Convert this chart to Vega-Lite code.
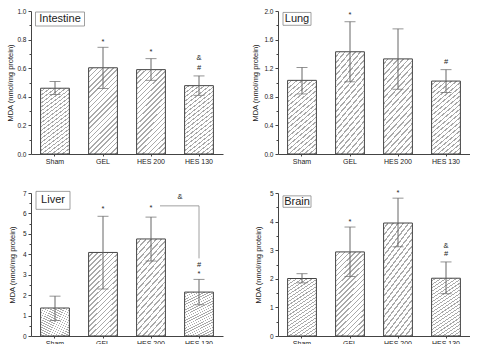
{
  "$schema": "https://vega.github.io/schema/vega-lite/v6.json",
  "padding": {"left": 6, "top": 8, "right": 0, "bottom": 0},
  "background": "white",
  "columns": 2,
  "spacing": {"row": 24, "column": 28},
  "config": {
    "view": {"stroke": null},
    "font": "Liberation Sans",
    "axis": {"grid": false, "labelFont": "Liberation Sans", "titleFont": "Liberation Sans", "labelColor": "#222", "titleColor": "#222", "titleFontWeight": "normal", "domainColor": "#444", "tickColor": "#444", "domainWidth": 1, "tickWidth": 1, "labelOverlap": false},
    "axisX": {"title": null, "labelAngle": 0, "tickSize": 2, "labelPadding": 1, "labelFontSize": 7},
    "axisY": {"labelFontSize": 6.5, "labelPadding": 2, "titleFontSize": 7.5, "titleBaseline": "middle", "tickSize": 3},
    "text": {"font": "Liberation Sans", "color": "#222"},
    "bar": {
      "stroke": "#444", "strokeWidth": 1,
      "fill": {"gradient": "linear", "x1": 0, "y1": 0, "x2": 1, "y2": 3, "stops": [
        {"offset": 0, "color": "#ffffff"}, {"offset": 0.0126, "color": "#ffffff"}, {"offset": 0.0126, "color": "#aaaaaa"}, {"offset": 0.018, "color": "#aaaaaa"},
        {"offset": 0.018, "color": "#ffffff"}, {"offset": 0.0306, "color": "#ffffff"}, {"offset": 0.0306, "color": "#aaaaaa"}, {"offset": 0.036, "color": "#aaaaaa"},
        {"offset": 0.036, "color": "#ffffff"}, {"offset": 0.0486, "color": "#ffffff"}, {"offset": 0.0486, "color": "#aaaaaa"}, {"offset": 0.054, "color": "#aaaaaa"},
        {"offset": 0.054, "color": "#ffffff"}, {"offset": 0.0666, "color": "#ffffff"}, {"offset": 0.0666, "color": "#aaaaaa"}, {"offset": 0.072, "color": "#aaaaaa"},
        {"offset": 0.072, "color": "#ffffff"}, {"offset": 0.0846, "color": "#ffffff"}, {"offset": 0.0846, "color": "#aaaaaa"}, {"offset": 0.09, "color": "#aaaaaa"},
        {"offset": 0.09, "color": "#ffffff"}, {"offset": 0.1026, "color": "#ffffff"}, {"offset": 0.1026, "color": "#aaaaaa"}, {"offset": 0.108, "color": "#aaaaaa"},
        {"offset": 0.108, "color": "#ffffff"}, {"offset": 0.1206, "color": "#ffffff"}, {"offset": 0.1206, "color": "#aaaaaa"}, {"offset": 0.126, "color": "#aaaaaa"},
        {"offset": 0.126, "color": "#ffffff"}, {"offset": 0.1386, "color": "#ffffff"}, {"offset": 0.1386, "color": "#aaaaaa"}, {"offset": 0.144, "color": "#aaaaaa"},
        {"offset": 0.144, "color": "#ffffff"}, {"offset": 0.1566, "color": "#ffffff"}, {"offset": 0.1566, "color": "#aaaaaa"}, {"offset": 0.162, "color": "#aaaaaa"},
        {"offset": 0.162, "color": "#ffffff"}, {"offset": 0.1746, "color": "#ffffff"}, {"offset": 0.1746, "color": "#aaaaaa"}, {"offset": 0.18, "color": "#aaaaaa"},
        {"offset": 0.18, "color": "#ffffff"}, {"offset": 0.1926, "color": "#ffffff"}, {"offset": 0.1926, "color": "#aaaaaa"}, {"offset": 0.198, "color": "#aaaaaa"},
        {"offset": 0.198, "color": "#ffffff"}, {"offset": 0.2106, "color": "#ffffff"}, {"offset": 0.2106, "color": "#aaaaaa"}, {"offset": 0.216, "color": "#aaaaaa"},
        {"offset": 0.216, "color": "#ffffff"}, {"offset": 0.2286, "color": "#ffffff"}, {"offset": 0.2286, "color": "#aaaaaa"}, {"offset": 0.234, "color": "#aaaaaa"},
        {"offset": 0.234, "color": "#ffffff"}, {"offset": 0.2466, "color": "#ffffff"}, {"offset": 0.2466, "color": "#aaaaaa"}, {"offset": 0.252, "color": "#aaaaaa"},
        {"offset": 0.252, "color": "#ffffff"}, {"offset": 0.2646, "color": "#ffffff"}, {"offset": 0.2646, "color": "#aaaaaa"}, {"offset": 0.27, "color": "#aaaaaa"},
        {"offset": 0.27, "color": "#ffffff"}, {"offset": 0.2826, "color": "#ffffff"}, {"offset": 0.2826, "color": "#aaaaaa"}, {"offset": 0.288, "color": "#aaaaaa"},
        {"offset": 0.288, "color": "#ffffff"}, {"offset": 0.3006, "color": "#ffffff"}, {"offset": 0.3006, "color": "#aaaaaa"}, {"offset": 0.306, "color": "#aaaaaa"},
        {"offset": 0.306, "color": "#ffffff"}, {"offset": 0.3186, "color": "#ffffff"}, {"offset": 0.3186, "color": "#aaaaaa"}, {"offset": 0.324, "color": "#aaaaaa"},
        {"offset": 0.324, "color": "#ffffff"}, {"offset": 0.3366, "color": "#ffffff"}, {"offset": 0.3366, "color": "#aaaaaa"}, {"offset": 0.342, "color": "#aaaaaa"},
        {"offset": 0.342, "color": "#ffffff"}, {"offset": 0.3546, "color": "#ffffff"}, {"offset": 0.3546, "color": "#aaaaaa"}, {"offset": 0.36, "color": "#aaaaaa"},
        {"offset": 0.36, "color": "#ffffff"}, {"offset": 0.3726, "color": "#ffffff"}, {"offset": 0.3726, "color": "#aaaaaa"}, {"offset": 0.378, "color": "#aaaaaa"},
        {"offset": 0.378, "color": "#ffffff"}, {"offset": 0.3906, "color": "#ffffff"}, {"offset": 0.3906, "color": "#aaaaaa"}, {"offset": 0.396, "color": "#aaaaaa"},
        {"offset": 0.396, "color": "#ffffff"}, {"offset": 0.4086, "color": "#ffffff"}, {"offset": 0.4086, "color": "#aaaaaa"}, {"offset": 0.414, "color": "#aaaaaa"}
      ]}
    }
  },
  "concat": [
    {
      "width": 192, "height": 143,
      "resolve": {"axis": {"y": "independent"}},
      "data": {"values": [
        {"g": "Sham", "m": 0.46, "lo": 0.416, "hi": 0.507},
        {"g": "GEL", "m": 0.603, "lo": 0.458, "hi": 0.746},
        {"g": "HES 200", "m": 0.59, "lo": 0.515, "hi": 0.667},
        {"g": "HES 130", "m": 0.478, "lo": 0.41, "hi": 0.546}
      ]},
      "layer": [
        {"mark": {"type": "bar"},
         "encoding": {
           "x": {"field": "g", "type": "nominal", "scale": {"domain": ["Sham", "GEL", "HES 200", "HES 130"], "paddingInner": 0.4, "paddingOuter": 0.2}},
           "y": {"field": "m", "type": "quantitative", "scale": {"domain": [0, 1], "nice": false},
                 "axis": {"title": "MDA (nmol/mg protein)", "titleX": -21, "values": [0, 0.2, 0.4, 0.6, 0.8, 1.0], "format": ".1f"}}}},
        {"mark": {"type": "tick", "opacity": 0},
         "encoding": {"x": {"field": "g", "type": "nominal"},
           "y": {"field": "m", "type": "quantitative", "axis": {"orient": "left", "values": [0.1, 0.3, 0.5, 0.7, 0.9], "labels": false, "domain": false, "title": null, "tickSize": 2}}}},
        {"mark": {"type": "rule", "color": "#666", "strokeWidth": 1},
         "encoding": {"x": {"field": "g", "type": "nominal"}, "y": {"field": "lo", "type": "quantitative", "axis": null}, "y2": {"field": "hi"}}},
        {"mark": {"type": "tick", "color": "#666", "size": 11, "thickness": 1},
         "encoding": {"x": {"field": "g", "type": "nominal"}, "y": {"field": "lo", "type": "quantitative", "axis": null}}},
        {"mark": {"type": "tick", "color": "#666", "size": 11, "thickness": 1},
         "encoding": {"x": {"field": "g", "type": "nominal"}, "y": {"field": "hi", "type": "quantitative", "axis": null}}},
        {"data": {"values": [
           {"g": "GEL", "v": 0.786, "t": "*"},
           {"g": "HES 200", "v": 0.716, "t": "*"},
           {"g": "HES 130", "v": 0.603, "t": "#"},
           {"g": "HES 130", "v": 0.67, "t": "&"}
         ]},
         "mark": {"type": "text", "fontSize": 7.5, "baseline": "middle"},
         "encoding": {"x": {"field": "g", "type": "nominal"}, "y": {"field": "v", "type": "quantitative", "axis": null}, "text": {"field": "t"}}},
        {"data": {"values": [{"g": "Sham", "b1": 0.895, "b2": 0.993, "yt": 0.944, "label": "Intestine"}]},
         "layer": [
           {"mark": {"type": "bar", "width": 49, "xOffset": 5, "fill": "white", "stroke": "#888", "strokeWidth": 0.8},
            "encoding": {"x": {"field": "g", "type": "nominal"}, "y": {"field": "b1", "type": "quantitative", "axis": null}, "y2": {"field": "b2"}}},
           {"mark": {"type": "text", "fontSize": 11, "dx": 5, "baseline": "middle"},
            "encoding": {"x": {"field": "g", "type": "nominal"}, "y": {"field": "yt", "type": "quantitative", "axis": null}, "text": {"field": "label"}}}
         ]}
      ]
    },
    {
      "width": 192, "height": 143,
      "resolve": {"axis": {"y": "independent"}},
      "data": {"values": [
        {"g": "Sham", "m": 1.03, "lo": 0.84, "hi": 1.21},
        {"g": "GEL", "m": 1.43, "lo": 1.01, "hi": 1.85},
        {"g": "HES 200", "m": 1.33, "lo": 0.905, "hi": 1.75},
        {"g": "HES 130", "m": 1.02, "lo": 0.86, "hi": 1.18}
      ]},
      "layer": [
        {"mark": {"type": "bar"},
         "encoding": {
           "x": {"field": "g", "type": "nominal", "scale": {"domain": ["Sham", "GEL", "HES 200", "HES 130"], "paddingInner": 0.4, "paddingOuter": 0.2}},
           "y": {"field": "m", "type": "quantitative", "scale": {"domain": [0, 2], "nice": false},
                 "axis": {"title": "MDA (nmol/mg protein)", "titleX": -23, "values": [0, 0.4, 0.8, 1.2, 1.6, 2.0], "format": ".1f"}}}},
        {"mark": {"type": "tick", "opacity": 0},
         "encoding": {"x": {"field": "g", "type": "nominal"},
           "y": {"field": "m", "type": "quantitative", "axis": {"orient": "left", "values": [0.2, 0.6, 1.0, 1.4, 1.8], "labels": false, "domain": false, "title": null, "tickSize": 2}}}},
        {"mark": {"type": "rule", "color": "#666", "strokeWidth": 1},
         "encoding": {"x": {"field": "g", "type": "nominal"}, "y": {"field": "lo", "type": "quantitative", "axis": null}, "y2": {"field": "hi"}}},
        {"mark": {"type": "tick", "color": "#666", "size": 11, "thickness": 1},
         "encoding": {"x": {"field": "g", "type": "nominal"}, "y": {"field": "lo", "type": "quantitative", "axis": null}}},
        {"mark": {"type": "tick", "color": "#666", "size": 11, "thickness": 1},
         "encoding": {"x": {"field": "g", "type": "nominal"}, "y": {"field": "hi", "type": "quantitative", "axis": null}}},
        {"data": {"values": [
           {"g": "GEL", "v": 1.94, "t": "*"},
           {"g": "HES 130", "v": 1.29, "t": "#"}
         ]},
         "mark": {"type": "text", "fontSize": 7.5, "baseline": "middle"},
         "encoding": {"x": {"field": "g", "type": "nominal"}, "y": {"field": "v", "type": "quantitative", "axis": null}, "text": {"field": "t"}}},
        {"data": {"values": [{"g": "Sham", "b1": 1.8, "b2": 1.98, "yt": 1.89, "label": "Lung"}]},
         "layer": [
           {"mark": {"type": "bar", "width": 28, "xOffset": -5, "fill": "white", "stroke": "#888", "strokeWidth": 0.8},
            "encoding": {"x": {"field": "g", "type": "nominal"}, "y": {"field": "b1", "type": "quantitative", "axis": null}, "y2": {"field": "b2"}}},
           {"mark": {"type": "text", "fontSize": 11, "dx": -5, "baseline": "middle"},
            "encoding": {"x": {"field": "g", "type": "nominal"}, "y": {"field": "yt", "type": "quantitative", "axis": null}, "text": {"field": "label"}}}
         ]}
      ]
    },
    {
      "width": 192, "height": 143,
      "resolve": {"axis": {"y": "independent"}},
      "data": {"values": [
        {"g": "Sham", "m": 1.37, "lo": 0.76, "hi": 1.95},
        {"g": "GEL", "m": 4.09, "lo": 2.3, "hi": 5.86},
        {"g": "HES 200", "m": 4.75, "lo": 3.67, "hi": 5.82},
        {"g": "HES 130", "m": 2.15, "lo": 1.53, "hi": 2.77}
      ]},
      "layer": [
        {"mark": {"type": "bar"},
         "encoding": {
           "x": {"field": "g", "type": "nominal", "scale": {"domain": ["Sham", "GEL", "HES 200", "HES 130"], "paddingInner": 0.4, "paddingOuter": 0.2}},
           "y": {"field": "m", "type": "quantitative", "scale": {"domain": [0, 7], "nice": false},
                 "axis": {"title": "MDA (nmol/mg protein)", "titleX": -19, "values": [0, 1, 2, 3, 4, 5, 6, 7], "format": "d"}}}},
        {"mark": {"type": "tick", "opacity": 0},
         "encoding": {"x": {"field": "g", "type": "nominal"},
           "y": {"field": "m", "type": "quantitative", "axis": {"orient": "left", "values": [0.5, 1.5, 2.5, 3.5, 4.5, 5.5, 6.5], "labels": false, "domain": false, "title": null, "tickSize": 2}}}},
        {"mark": {"type": "rule", "color": "#666", "strokeWidth": 1},
         "encoding": {"x": {"field": "g", "type": "nominal"}, "y": {"field": "lo", "type": "quantitative", "axis": null}, "y2": {"field": "hi"}}},
        {"mark": {"type": "tick", "color": "#666", "size": 11, "thickness": 1},
         "encoding": {"x": {"field": "g", "type": "nominal"}, "y": {"field": "lo", "type": "quantitative", "axis": null}}},
        {"mark": {"type": "tick", "color": "#666", "size": 11, "thickness": 1},
         "encoding": {"x": {"field": "g", "type": "nominal"}, "y": {"field": "hi", "type": "quantitative", "axis": null}}},
        {"data": {"values": [
           {"g": "GEL", "v": 6.23, "t": "*"},
           {"g": "HES 200", "v": 6.25, "t": "*"},
           {"g": "HES 130", "v": 3.02, "t": "*"},
           {"g": "HES 130", "v": 3.48, "t": "#"}
         ]},
         "mark": {"type": "text", "fontSize": 7.5, "baseline": "middle"},
         "encoding": {"x": {"field": "g", "type": "nominal"}, "y": {"field": "v", "type": "quantitative", "axis": null}, "text": {"field": "t"}}},
        {"data": {"values": [{"a": "HES 200", "b": "HES 130", "top": 6.37, "bot": 3.8, "v": 6.78, "t": "&"}]},
         "layer": [
           {"mark": {"type": "rule", "color": "#888", "strokeWidth": 0.8, "xOffset": 9},
            "encoding": {"x": {"field": "a", "type": "nominal"}, "x2": {"field": "b"}, "y": {"field": "top", "type": "quantitative", "axis": null}}},
           {"mark": {"type": "rule", "color": "#888", "strokeWidth": 0.8},
            "encoding": {"x": {"field": "b", "type": "nominal"}, "y": {"field": "bot", "type": "quantitative", "axis": null}, "y2": {"field": "top"}}},
           {"mark": {"type": "text", "fontSize": 7.5, "baseline": "middle", "dx": 29},
            "encoding": {"x": {"field": "a", "type": "nominal"}, "y": {"field": "v", "type": "quantitative", "axis": null}, "text": {"field": "t"}}}
         ]},
        {"data": {"values": [{"g": "Sham", "b1": 6.2, "b2": 7.08, "yt": 6.64, "label": "Liver"}]},
         "layer": [
           {"mark": {"type": "bar", "width": 34, "xOffset": -2, "fill": "white", "stroke": "#888", "strokeWidth": 0.8},
            "encoding": {"x": {"field": "g", "type": "nominal"}, "y": {"field": "b1", "type": "quantitative", "axis": null}, "y2": {"field": "b2"}}},
           {"mark": {"type": "text", "fontSize": 11, "dx": -2, "baseline": "middle"},
            "encoding": {"x": {"field": "g", "type": "nominal"}, "y": {"field": "yt", "type": "quantitative", "axis": null}, "text": {"field": "label"}}}
         ]}
      ]
    },
    {
      "width": 192, "height": 143,
      "resolve": {"axis": {"y": "independent"}},
      "data": {"values": [
        {"g": "Sham", "m": 2.01, "lo": 1.86, "hi": 2.18},
        {"g": "GEL", "m": 2.94, "lo": 2.08, "hi": 3.81},
        {"g": "HES 200", "m": 3.95, "lo": 3.12, "hi": 4.82},
        {"g": "HES 130", "m": 2.02, "lo": 1.48, "hi": 2.59}
      ]},
      "layer": [
        {"mark": {"type": "bar"},
         "encoding": {
           "x": {"field": "g", "type": "nominal", "scale": {"domain": ["Sham", "GEL", "HES 200", "HES 130"], "paddingInner": 0.4, "paddingOuter": 0.2}},
           "y": {"field": "m", "type": "quantitative", "scale": {"domain": [0, 5], "nice": false},
                 "axis": {"title": "MDA (nmol/mg protein)", "titleX": -20, "values": [0, 1, 2, 3, 4, 5], "format": "d"}}}},
        {"mark": {"type": "tick", "opacity": 0},
         "encoding": {"x": {"field": "g", "type": "nominal"},
           "y": {"field": "m", "type": "quantitative", "axis": {"orient": "left", "values": [0.5, 1.5, 2.5, 3.5, 4.5], "labels": false, "domain": false, "title": null, "tickSize": 2}}}},
        {"mark": {"type": "rule", "color": "#666", "strokeWidth": 1},
         "encoding": {"x": {"field": "g", "type": "nominal"}, "y": {"field": "lo", "type": "quantitative", "axis": null}, "y2": {"field": "hi"}}},
        {"mark": {"type": "tick", "color": "#666", "size": 11, "thickness": 1},
         "encoding": {"x": {"field": "g", "type": "nominal"}, "y": {"field": "lo", "type": "quantitative", "axis": null}}},
        {"mark": {"type": "tick", "color": "#666", "size": 11, "thickness": 1},
         "encoding": {"x": {"field": "g", "type": "nominal"}, "y": {"field": "hi", "type": "quantitative", "axis": null}}},
        {"data": {"values": [
           {"g": "GEL", "v": 4.0, "t": "*"},
           {"g": "HES 200", "v": 5.01, "t": "*"},
           {"g": "HES 130", "v": 3.16, "t": "&"},
           {"g": "HES 130", "v": 2.85, "t": "#"}
         ]},
         "mark": {"type": "text", "fontSize": 7.5, "baseline": "middle"},
         "encoding": {"x": {"field": "g", "type": "nominal"}, "y": {"field": "v", "type": "quantitative", "axis": null}, "text": {"field": "t"}}},
        {"data": {"values": [{"g": "Sham", "b1": 4.5, "b2": 4.9, "yt": 4.7, "label": "Brain"}]},
         "layer": [
           {"mark": {"type": "bar", "width": 28, "xOffset": -5, "fill": "white", "stroke": "#888", "strokeWidth": 0.8},
            "encoding": {"x": {"field": "g", "type": "nominal"}, "y": {"field": "b1", "type": "quantitative", "axis": null}, "y2": {"field": "b2"}}},
           {"mark": {"type": "text", "fontSize": 11, "dx": -5, "baseline": "middle"},
            "encoding": {"x": {"field": "g", "type": "nominal"}, "y": {"field": "yt", "type": "quantitative", "axis": null}, "text": {"field": "label"}}}
         ]}
      ]
    }
  ]
}
